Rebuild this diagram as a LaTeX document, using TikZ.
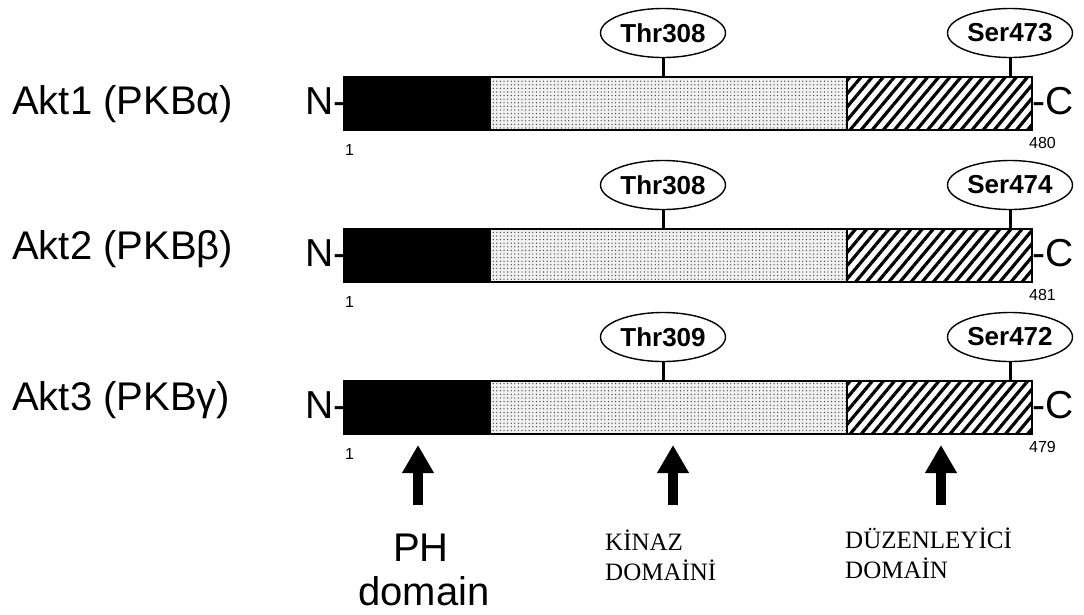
\documentclass[tikz,border=0pt]{standalone}
\usepackage{fontspec}
\setmainfont{Liberation Sans}
\newfontfamily\trserif{Liberation Serif}
\usetikzlibrary{patterns.meta,arrows.meta,shapes.geometric}

\tikzset{
  seg/.style={draw=black, line width=1.6pt, minimum height=53pt,
    inner sep=0pt, outer sep=0pt, anchor=north west},
  phseg/.style={seg, fill=black},
  kinseg/.style={seg, preaction={fill=gray!12},
    pattern={Dots[radius=0.65pt,distance=3.6pt]}, pattern color=gray!40!black},
  regseg/.style={seg, preaction={fill=white},
    pattern={Lines[angle=50,distance=8.5pt,line width=3.2pt]}, pattern color=black},
  site/.style={ellipse, draw=black, line width=1.4pt, minimum width=125pt,
    minimum height=49pt, inner sep=0pt, font=\fontsize{26}{26}\selectfont\bfseries},
  stem/.style={line width=3pt},
  isoform/.style={anchor=base west, inner sep=0pt, font=\fontsize{40}{48}\selectfont},
  term/.style={inner sep=0pt, font=\fontsize{39}{46}\selectfont},
  resnum/.style={inner sep=0pt, font=\fontsize{16}{18}\selectfont},
  uparrow/.style={line width=10pt, -{Triangle[width=30pt,length=28pt]}},
  biglab/.style={anchor=base, inner sep=0pt, font=\fontsize{40}{46}\selectfont},
  trlab/.style={anchor=base west, inner sep=0pt, font=\trserif\fontsize{25}{30}\selectfont},
}

\begin{document}
\begin{tikzpicture}[x=1pt,y=-1pt]
  \useasboundingbox (0,0) rectangle (1084,614);

  % three isoforms: name, top edge of the bar, phospho-sites, last residue
  \foreach \i/\yt/\lab/\ylab/\ta/\sb/\last in {
      1/77/{Akt1 (PKBα)}/114/Thr308/Ser473/480,
      2/229/{Akt2 (PKBβ)}/259/Thr308/Ser474/481,
      3/381/{Akt3 (PKBγ)}/410/Thr309/Ser472/479}{
    \node[isoform] (name\i) at (12,\ylab) {\lab};

    % domains: PH, kinase, regulatory
    \node[phseg,  minimum width=146pt] (ph\i)  at (344,\yt) {};
    \node[kinseg, minimum width=357pt] (kin\i) at (490,\yt) {};
    \node[regseg, minimum width=185pt] (reg\i) at (847,\yt) {};

    % termini and residue numbers
    \node[term, anchor=base east] (nt\i) at ([xshift=3pt]ph\i.west |- 0,\yt+37) {N-};
    \node[term, anchor=base west] (ct\i) at ([xshift=0.5pt]reg\i.east |- 0,\yt+37) {-C};
    \node[resnum, anchor=base west] (first\i) at (345,\yt+78) {1};
    \node[resnum, anchor=base east] (last\i) at (1056,\yt+71) {\last};

    % phosphorylation sites
    \node[site] (thr\i) at (663,\yt-44) {\ta};
    \node[site] (ser\i) at (1010,\yt-44) {\sb};
    \draw[stem] (thr\i.south) -- (thr\i.south |- kin\i.north);
    \draw[stem] (ser\i.south) -- (ser\i.south |- reg\i.north);
  }

  % domain captions and their arrows
  \node[biglab] (phl) at (421,561) {PH};
  \node[biglab] (phl2) at (424,605) {domain};
  \node[trlab] (kl1) at (605,550) {KİNAZ};
  \node[trlab] (kl2) at (605,580) {DOMAİNİ};
  \node[trlab] (rl1) at (845,548) {DÜZENLEYİCİ};
  \node[trlab] (rl2) at (845,578) {DOMAİN};

  \coordinate (a1) at (418,505); \coordinate (a1t) at (418,445);
  \coordinate (a2) at (673,505); \coordinate (a2t) at (673,445);
  \coordinate (a3) at (941,505); \coordinate (a3t) at (941,445);
  \draw[uparrow] (a1) -- (a1t);
  \draw[uparrow] (a2) -- (a2t);
  \draw[uparrow] (a3) -- (a3t);
\end{tikzpicture}
\end{document}
